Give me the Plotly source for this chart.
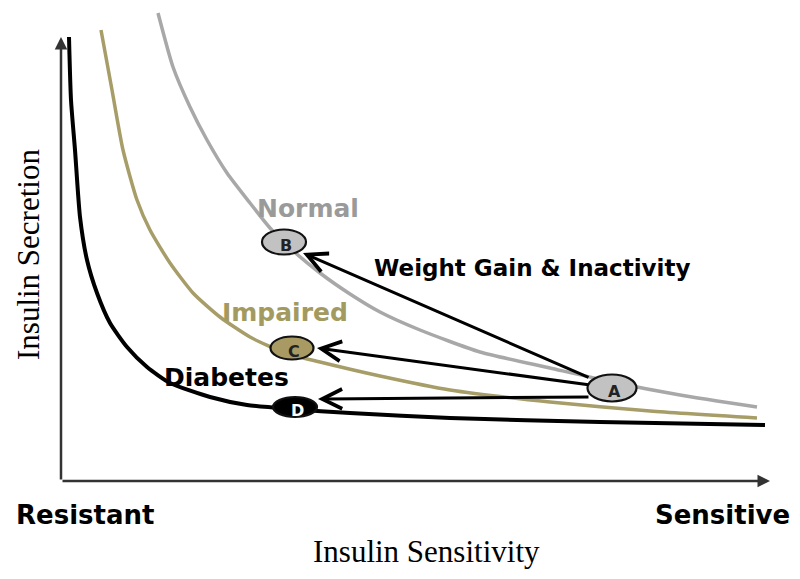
import plotly.graph_objects as go

# ---- data (units: sensitivity / secretion, origin at axis corner) ----
normal_x = [97, 112, 129, 146, 166, 189, 209, 229, 259, 289, 319, 359, 419, 489, 551, 619, 696]
normal_y = [468, 414, 374, 341, 308, 278, 253, 233, 208, 187, 169, 151, 129, 113, 99, 86, 74]

impaired_x = [40, 51, 62, 76, 89, 109, 132, 159, 189, 224, 259, 319, 389, 489, 589, 696]
impaired_y = [451, 391, 331, 281, 251, 218, 188, 164, 144, 128, 119, 105, 91, 79, 70, 63]

diabetes_x = [8, 10, 14, 19, 26, 36, 49, 66, 86, 109, 149, 186, 229, 289, 389, 539, 704]
diabetes_y = [444, 381, 331, 264, 221, 188, 158, 134, 114, 98, 84, 76, 72, 68, 63, 59, 56]

point_names = ["A", "B", "C", "D"]
point_x = [551, 223, 231, 234]
point_y = [93, 239, 133, 74]

# arrows: from A to B, C, D
arrow_tail_x = [529, 529, 529]
arrow_tail_y = [103, 96, 84]
arrow_head_x = [242, 256, 257]
arrow_head_y = [228, 133, 82]

# ---- styles ----
GRAY = "#a8a8a8"
KHAKI = "#a79d68"
BLACK = "#000000"
point_w = [49, 44, 43, 44]
point_h = [27, 25, 23, 20]
point_fill = ["#c2c2c2", "#c2c2c2", "#a89a62", "#000000"]
point_text_color = ["#222", "#222", "#222", "#ffffff"]

fig = go.Figure()
fig.add_trace(go.Scatter(x=diabetes_x, y=diabetes_y, mode="lines",
                         line=dict(color=BLACK, width=4, shape="spline", smoothing=0.6),
                         hoverinfo="skip"))
fig.add_trace(go.Scatter(x=impaired_x, y=impaired_y, mode="lines",
                         line=dict(color=KHAKI, width=3.5, shape="spline", smoothing=0.6),
                         hoverinfo="skip"))
fig.add_trace(go.Scatter(x=normal_x, y=normal_y, mode="lines",
                         line=dict(color=GRAY, width=3.5, shape="spline", smoothing=0.6),
                         hoverinfo="skip"))

shapes = []
for cx, cy, w, h, fc in zip(point_x, point_y, point_w, point_h, point_fill):
    shapes.append(dict(type="circle", xref="x", yref="y",
                       x0=cx - w / 2, x1=cx + w / 2, y0=cy - h / 2, y1=cy + h / 2,
                       fillcolor=fc, line=dict(color="#111", width=2.2), layer="above"))

annotations = []
# axes with arrows
annotations.append(dict(x=709, y=0, ax=0, ay=0, xref="x", yref="y", axref="x", ayref="y",
                        text="", showarrow=True, arrowhead=2, arrowsize=1, arrowwidth=2.5,
                        arrowcolor="#333"))
annotations.append(dict(x=0, y=444, ax=0, ay=0, xref="x", yref="y", axref="x", ayref="y",
                        text="", showarrow=True, arrowhead=2, arrowsize=1, arrowwidth=2.5,
                        arrowcolor="#333"))
# transition arrows
for tx, ty, hx, hy in zip(arrow_tail_x, arrow_tail_y, arrow_head_x, arrow_head_y):
    annotations.append(dict(x=hx, y=hy, ax=tx, ay=ty, xref="x", yref="y", axref="x", ayref="y",
                            text="", showarrow=True, arrowhead=5, arrowsize=1.3, arrowwidth=3,
                            arrowcolor="#000"))
# point letters
for name, cx, cy, tc in zip(point_names, point_x, point_y, point_text_color):
    annotations.append(dict(x=cx + 2, y=cy - 3, xref="x", yref="y", text="<b>" + name + "</b>",
                            showarrow=False, font=dict(family="DejaVu Sans", size=16, color=tc)))

BOLD = "DejaVu Sans"
labels = [
    ("Normal", 247, 273, 25, "#9a9a9a"),
    ("Weight Gain &amp; Inactivity", 471, 213, 23, "#000"),
    ("Impaired", 224, 169, 25, "#a39a5f"),
    ("Diabetes", 165, 104, 25, "#000"),
    ("Resistant", 24, -34, 26, "#000"),
    ("Sensitive", 661, -34, 26, "#000"),
]
for t, x, y, s, c in labels:
    annotations.append(dict(x=x, y=y, xref="x", yref="y", text="<b>" + t + "</b>",
                            showarrow=False, font=dict(family=BOLD, size=s, color=c)))

annotations.append(dict(x=365, y=-70, xref="x", yref="y", text="Insulin Sensitivity",
                        showarrow=False, font=dict(family="Liberation Serif", size=31, color="#000")))
annotations.append(dict(x=-33, y=226, xref="x", yref="y", text="Insulin Secretion", textangle=-90,
                        showarrow=False, font=dict(family="Liberation Serif", size=31, color="#000")))

fig.update_layout(
    width=800, height=579,
    margin=dict(l=0, r=0, t=0, b=0),
    paper_bgcolor="white", plot_bgcolor="white",
    showlegend=False,
    xaxis=dict(range=[-53, 747], visible=False, fixedrange=True),
    yaxis=dict(range=[-106, 473], visible=False, fixedrange=True),
    shapes=shapes,
    annotations=annotations,
)

fig.write_html("out.html")
